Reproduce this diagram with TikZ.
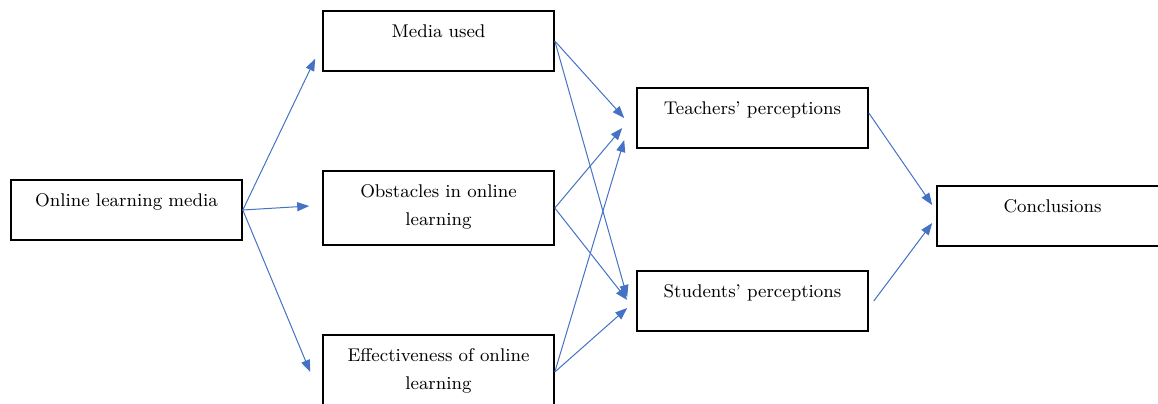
\documentclass[tikz,border=0pt]{standalone}
\usepackage{tikz}
\usetikzlibrary{arrows.meta}
\definecolor{linkblue}{HTML}{4472C4}

\begin{document}
\begin{tikzpicture}[node distance=156pt,
	box/.style={draw,line width=0.8pt,text width=108pt,inner xsep=3.75pt,inner ysep=0pt,align=center,text height=13pt,text depth=17pt,font=\fontsize{9.2}{14}\selectfont},
	twoline/.style={text depth=24pt},
	link/.style={-{Triangle[length=6pt,width=4.5pt]},color=linkblue,line width=0.5pt}]

\useasboundingbox (-63.25pt,-96.5pt) rectangle (515.75pt,105pt);

\node[box](onl) at (0,0){Online learning media};
\node[box,twoline](obs)[right of=onl,yshift=1pt]{Obstacles in online\\learning};
\node[box](med)[node distance=83.5pt,above of=obs]{Media used};
\node[box,twoline](eff)[node distance=82pt,below of=obs]{Effectiveness of online\\learning};
\node[box](tea)[right of=med,xshift=1pt,yshift=-38.5pt]{Teachers' perceptions};
\node[box](stu)[right of=eff,xshift=1pt,yshift=35.5pt]{Students' perceptions};
\node[box](con)[node distance=150pt,right of=tea,yshift=-49pt]{Conclusions};

\path[link](onl.east)edge([xshift=-3.5pt,yshift=6.5pt]med.south west)
	(onl.east)edge([xshift=-6.5pt,yshift=1pt]obs.west)
	(onl.east)edge([xshift=-6pt]eff.west)
	(med.east)edge([xshift=-6pt]tea.west)
	(med.east)edge([xshift=-4.5pt,yshift=2pt]stu.west)
	(obs.east)edge([xshift=-7pt,yshift=-5pt]tea.west)
	(obs.east)edge([xshift=-4.5pt,yshift=0.5pt]stu.west)
	(eff.east)edge([xshift=-6pt,yshift=-11pt]tea.west)
	(eff.east)edge([xshift=-4.5pt,yshift=-3.5pt]stu.west)
	([yshift=2.5pt]tea.east)edge([xshift=-2pt,yshift=5.5pt]con.west)
	([xshift=2.5pt]stu.east)edge([xshift=-2pt,yshift=-3.5pt]con.west);

\end{tikzpicture}
\end{document}
